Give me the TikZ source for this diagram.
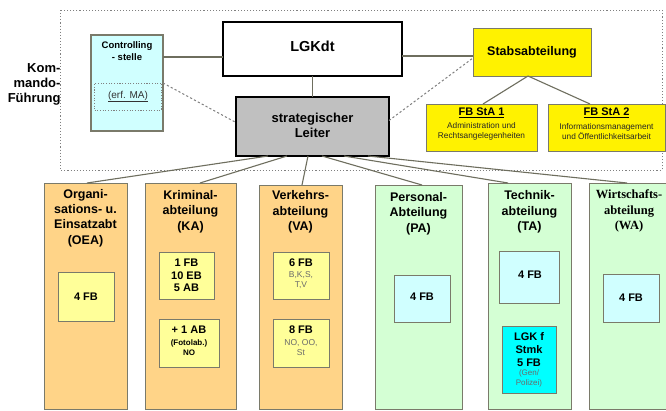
\documentclass[tikz,border=0pt]{standalone}
\usepackage{fontspec}
\setmainfont{Liberation Sans}
\newfontfamily\serifhead{Liberation Serif}
\usetikzlibrary{calc}
\newcommand\fsz[2]{\fontsize{#1}{#2}\selectfont}
\definecolor{deptorange}{HTML}{FFD488}
\definecolor{deptgreen}{HTML}{D4FFD4}
\definecolor{paleyellow}{HTML}{FFFF99}
\definecolor{palecyan}{HTML}{D0FFFF}
\definecolor{strongcyan}{HTML}{00FFFF}
\definecolor{boxgray}{HTML}{C0C0C0}
\definecolor{edgegray}{HTML}{7A7A6A}
\definecolor{linkgray}{HTML}{6E6E5E}
\definecolor{smallgray}{HTML}{6A6A6A}
\begin{document}
\begin{tikzpicture}[x=1pt,y=-1pt,
  rectbox/.style={rectangle, inner sep=0pt, outer sep=0pt, anchor=north west},
  dept/.style={rectbox, draw=edgegray, line width=0.9pt},
  inbox/.style={rectbox, draw=edgegray, line width=0.8pt},
  head/.style={align=center, font=\fsz{12.5}{15.3}\bfseries},
  intext/.style={align=center, font=\fsz{11}{12.6}\bfseries},
  tiny/.style={align=center, font=\fsz{8.5}{10.5}, text=smallgray},
  link/.style={draw=linkgray, line width=1.1pt},
  dashlink/.style={draw=gray, line width=1pt, dash pattern=on 2.2pt off 2.2pt},
  dotframe/.style={draw=gray, line width=1pt, dash pattern=on 1.1pt off 2pt}
]
\useasboundingbox (0,0) rectangle (666,410);
\clip (0,0) rectangle (666,410);
\fill[white] (0,0) rectangle (666,410);

% command level frame
\draw[dotframe] (60,10) rectangle (662,170);
\node[align=right, anchor=east, font=\fsz{13}{15}\bfseries] (kom) at (64,84) {Kom-\\mando-\\Führung};

% controlling unit
\node[rectbox, fill=palecyan, draw=edgegray, line width=1.4pt, minimum width=72pt, minimum height=96pt] (contr) at (91,35) {};
\node[align=center, font=\fsz{9.5}{12}\bfseries] (contrT) at (127,51) {Controlling\\- stelle};
\node[rectbox, draw=gray, line width=0.9pt, dash pattern=on 1.1pt off 1.6pt, minimum width=67pt, minimum height=27pt] (erf) at (94.5,83) {};
\node[font=\fsz{10}{12}, text=black!80] (erfT) at (erf.center) {\underline{(erf. MA)}};

% commander
\node[rectbox, fill=white, draw=black, line width=2pt, minimum width=179pt, minimum height=54pt] (lgk) at (223,22) {};
\node[font=\fsz{14.5}{16}\bfseries] (lgkT) at (312.5,46) {LGKdt};

% staff department
\node[rectbox, fill=yellow, draw=edgegray, line width=1pt, minimum width=118pt, minimum height=48pt] (stab) at (473,28) {};
\node[font=\fsz{12.5}{14}\bfseries] (stabT) at (stab.center) {Stabsabteilung};
\node[rectbox, fill=yellow, draw=edgegray, line width=1pt, minimum width=111pt, minimum height=47pt] (sta1) at (426,104) {};
\node[rectbox, fill=yellow, draw=edgegray, line width=1pt, minimum width=117pt, minimum height=47pt] (sta2) at (548,104) {};
\node[font=\fsz{11}{12}\bfseries] (sta1H) at (481.5,113) {\underline{FB StA 1}};
\node[align=center, font=\fsz{8.3}{10}, text=black!85] (sta1T) at (481.5,131.5) {Administration und\\Rechtsangelegenheiten};
\node[font=\fsz{11}{12}\bfseries] (sta2H) at (606.5,113) {\underline{FB StA 2}};
\node[align=center, font=\fsz{8.3}{10}, text=black!85] (sta2T) at (606.5,131.5) {Informationsmanagement\\und Öffentlichkeitsarbeit};

% strategic head
\node[rectbox, fill=boxgray, draw=black, line width=1.8pt, minimum width=153pt, minimum height=59pt] (strat) at (236,97) {};
\node[align=center, font=\fsz{13}{15}\bfseries] (stratT) at (312.5,125.5) {strategischer\\Leiter};

% connectors in the command level
\coordinate (c1) at ($(contr.north east)+(0,22)$);
\draw[link] (c1) -- (c1 -| lgk.west);
\coordinate (s1) at ($(stab.west)+(0,4)$);
\draw[link] (s1 -| lgk.east) -- (s1);
\draw[link] (lgk.south) -- (strat.north);
\draw[link] ([xshift=-4pt]stab.south) -- ([xshift=1.5pt]sta1.north);
\draw[link] ([xshift=-4pt]stab.south) -- ([xshift=-16.5pt]sta2.north);
\draw[dashlink] (contr.east) -- ([yshift=4pt]strat.west);
\draw[dashlink] ([yshift=6pt]strat.east) -- ([yshift=-6pt]stab.west);

% departments
\node[dept, fill=deptorange, minimum width=83pt, minimum height=226pt] (oea) at (44,183) {};
\node[dept, fill=deptorange, minimum width=91pt, minimum height=226pt] (ka) at (145,183) {};
\node[dept, fill=deptorange, minimum width=83pt, minimum height=224pt] (va) at (259,185) {};
\node[dept, fill=deptgreen, minimum width=87pt, minimum height=224pt] (pa) at (375,185) {};
\node[dept, fill=deptgreen, minimum width=83pt, minimum height=226pt] (ta) at (488,183) {};
\node[dept, fill=deptgreen, minimum width=83pt, minimum height=226pt] (wa) at (589,183) {};

\node[head] (oeaT) at (85.5,218) {Organi-\\sations- u.\\Einsatzabt\\(OEA)};
\node[head] (kaT) at (190.5,211.5) {Kriminal-\\abteilung\\(KA)};
\node[head] (vaT) at (300.5,212) {Verkehrs-\\abteilung\\(VA)};
\node[head] (paT) at (418.5,213.5) {Personal-\\Abteilung\\(PA)};
\node[head] (taT) at (529.5,212) {Technik-\\abteilung\\(TA)};
\node[align=center, font=\fsz{12.5}{15.3}\serifhead\bfseries] (waT) at (629,211) {Wirtschafts-\\abteilung\\(WA)};

% units inside the departments
\node[inbox, fill=paleyellow, minimum width=56pt, minimum height=49pt] (oea1) at (58,272) {};
\node[intext] at (oea1.center) {4 FB};

\node[inbox, fill=paleyellow, minimum width=55pt, minimum height=47pt] (ka1) at (159,252) {};
\node[intext] at (186.5,275.5) {1 FB\\10 EB\\5 AB};
\node[inbox, fill=paleyellow, minimum width=60pt, minimum height=48pt] (ka2) at (159,319) {};
\node[align=center, font=\fsz{11}{12}\bfseries] (ka2a) at (189,329.5) {+ 1 AB};
\node[align=center, font=\fsz{8}{10}\bfseries] (ka2b) at (189,348) {(Fotolab.)\\NO};

\node[inbox, fill=paleyellow, minimum width=56pt, minimum height=47pt] (va1) at (273,252) {};
\node[intext] (va1a) at (301,262.5) {6 FB};
\node[tiny] (va1b) at (301,280) {B,K,S,\\T,V};
\node[inbox, fill=paleyellow, minimum width=56pt, minimum height=48pt] (va2) at (273,319) {};
\node[intext] (va2a) at (301,329.5) {8 FB};
\node[tiny] (va2b) at (301,347.5) {NO, OO,\\St};

\node[inbox, fill=palecyan, minimum width=56pt, minimum height=47pt] (pa1) at (394,275) {};
\node[intext] at (422,297) {4 FB};

\node[inbox, fill=palecyan, minimum width=60pt, minimum height=52pt] (ta1) at (499,251) {};
\node[intext] at (530,275) {4 FB};
\node[inbox, fill=strongcyan, minimum width=54pt, minimum height=67pt] (ta2) at (502,326) {};
\node[align=center, font=\fsz{11}{13}\bfseries] (ta2a) at (529,350) {LGK f\\Stmk\\5 FB};
\node[align=center, font=\fsz{8}{10}, text=smallgray] (ta2b) at (529,378) {(Gen/\\Polizei)};

\node[inbox, fill=palecyan, minimum width=56pt, minimum height=48pt] (wa1) at (603,274) {};
\node[intext] at (631,298) {4 FB};

% connectors from the strategic head to the departments
\draw[link] ([xshift=-44.5pt]strat.south) -- ([xshift=1.5pt]oea.north);
\draw[link] ([xshift=-25.5pt]strat.south) -- ([xshift=9.5pt]ka.north);
\draw[link] ([xshift=-4.5pt]strat.south) -- ([xshift=1.5pt]va.north);
\draw[link] ([xshift=9.5pt]strat.south) -- ([xshift=3.5pt]pa.north);
\draw[link] ([xshift=31.5pt]strat.south) -- ([xshift=-21.5pt]ta.north);
\draw[link] ([xshift=55.5pt]strat.south) -- ([xshift=-3.5pt]wa.north);
\end{tikzpicture}
\end{document}
